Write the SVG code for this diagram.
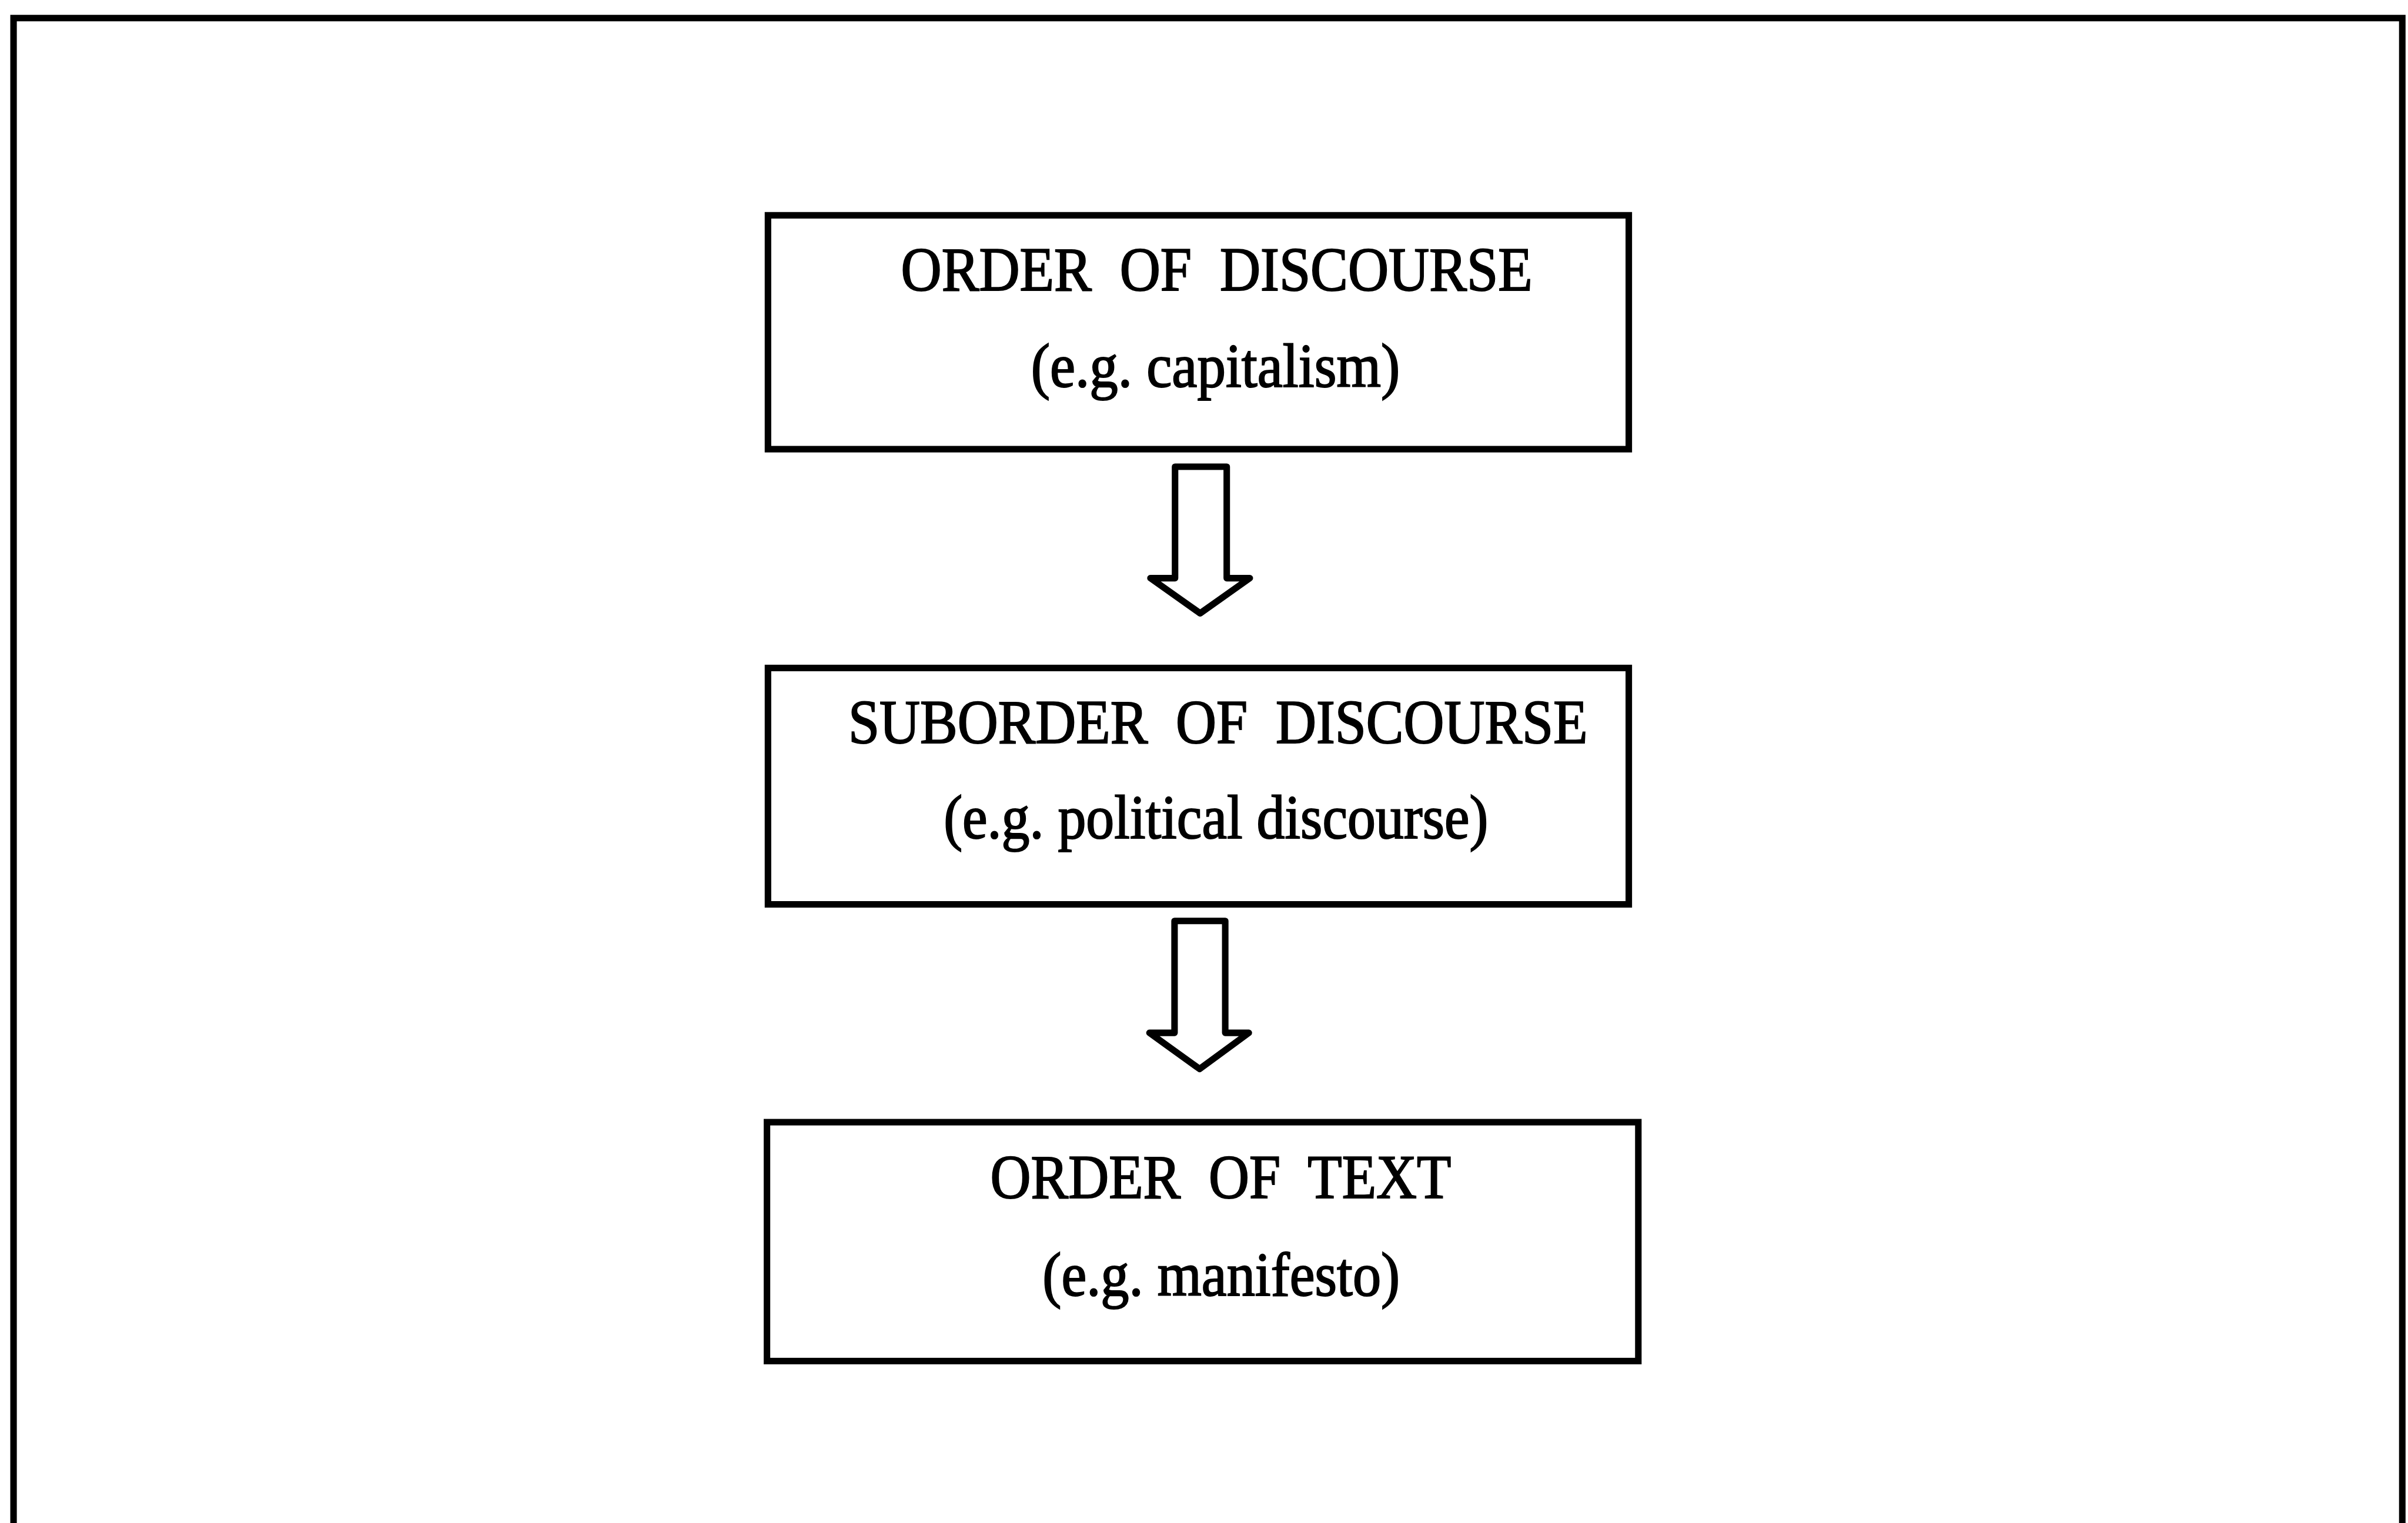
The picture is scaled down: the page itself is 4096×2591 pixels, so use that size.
<svg xmlns="http://www.w3.org/2000/svg" width="4096" height="2591" viewBox="0 0 4096 2591">
<style>
.box{fill:#fff;stroke:#000;stroke-width:13}
.arrow{fill:#fff;stroke:#000;stroke-width:13;stroke-linejoin:round}
.t{font-family:"Liberation Serif","Times New Roman",serif;font-size:124px;fill:#000;stroke:#000;stroke-width:2.5;white-space:pre}
</style>
<rect width="4096" height="2591" fill="#fff"/>
<g transform="scale(0.8538)">
<path id="frame" d="M27,3040 V36 H4786 V3040" fill="none" stroke="#000" stroke-width="13"/>
<g id="connectors">
<polygon class="arrow" points="2341,930 2444,930 2444,1152 2490,1152 2391,1222 2292,1152 2341,1152"/>
<polygon class="arrow" points="2340,1835 2441,1835 2441,2058 2488,2058 2390,2130 2290,2058 2340,2058"/>
</g>
<g id="node-order-of-discourse">
<rect class="box" x="1530" y="429" width="1715" height="466"/>
<text class="t" x="1795" y="579" textLength="1258" lengthAdjust="spacingAndGlyphs" xml:space="preserve">ORDER  OF  DISCOURSE</text>
<text class="t" x="2054" y="771" textLength="735" lengthAdjust="spacingAndGlyphs">(e.g. capitalism)</text>
</g>
<g id="node-suborder-of-discourse">
<rect class="box" x="1530" y="1331" width="1715" height="471"/>
<text class="t" x="1690" y="1481" textLength="1473" lengthAdjust="spacingAndGlyphs" xml:space="preserve">SUBORDER  OF  DISCOURSE</text>
<text class="t" x="1880" y="1670" textLength="1085" lengthAdjust="spacingAndGlyphs">(e.g. political discourse)</text>
</g>
<g id="node-order-of-text">
<rect class="box" x="1528" y="2236" width="1736" height="476"/>
<text class="t" x="1973" y="2387" textLength="918" lengthAdjust="spacingAndGlyphs" xml:space="preserve">ORDER  OF  TEXT</text>
<text class="t" x="2077" y="2581" textLength="712" lengthAdjust="spacingAndGlyphs">(e.g. manifesto)</text>
</g>
</g>
</svg>
